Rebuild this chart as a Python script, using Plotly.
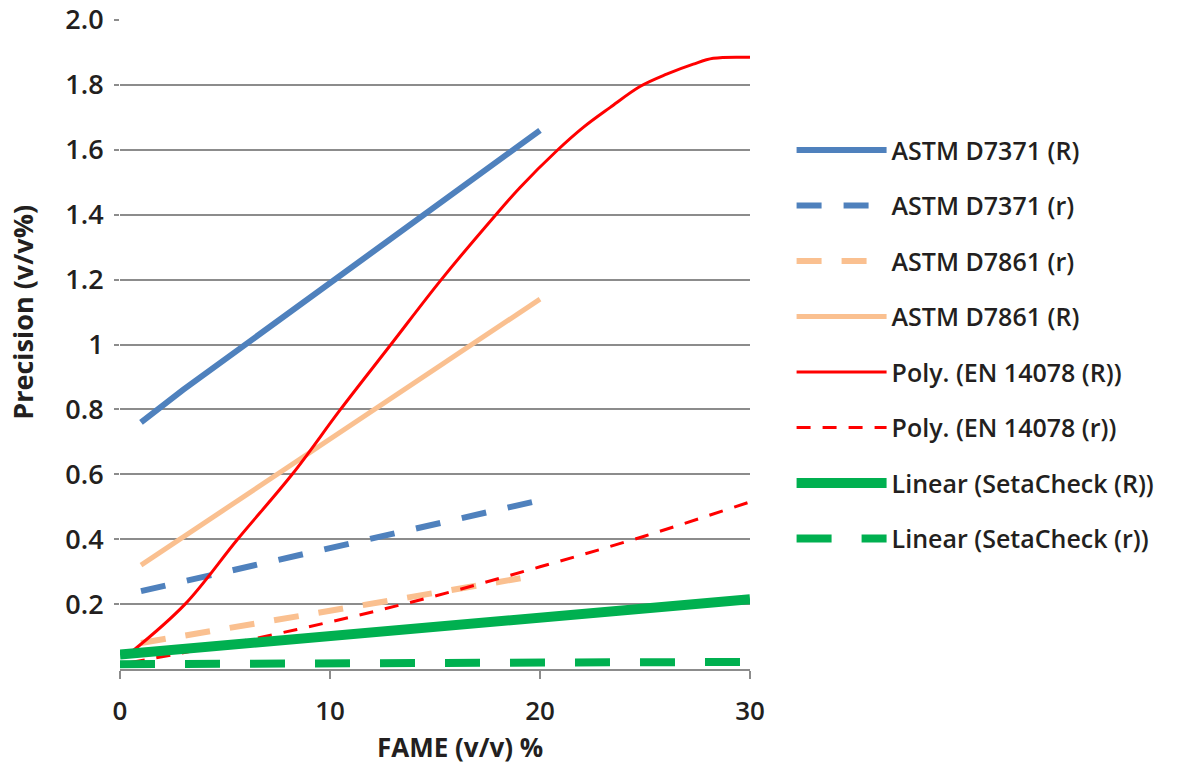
import plotly.graph_objects as go

# ---- data ----
d7371_R_x = [1, 3, 20]
d7371_R_y = [0.76, 0.86, 1.66]
d7371_r_x = [1, 20]
d7371_r_y = [0.24, 0.52]
d7861_r_x = [1, 20]
d7861_r_y = [0.08, 0.29]
d7861_R_x = [1, 20]
d7861_R_y = [0.32, 1.14]
en_R_x = [0.5, 3.1, 5.6, 8.2, 10.5, 12.9, 15.3, 17.9, 19.05, 20.8, 22.06, 23.33, 24.76, 26.03, 27.3, 28.25, 30]
en_R_y = [0.05, 0.20, 0.40, 0.60, 0.80, 1.00, 1.20, 1.40, 1.484, 1.597, 1.669, 1.730, 1.795, 1.833, 1.864, 1.882, 1.885]
en_r_x = [0.5, 5, 10, 15, 20, 25, 30]
en_r_y = [0.02, 0.075, 0.145, 0.225, 0.315, 0.41, 0.515]
seta_R_x = [0, 30]
seta_R_y = [0.045, 0.215]
seta_r_x = [0, 30]
seta_r_y = [0.015, 0.022]

y_tickvals = [0.2, 0.4, 0.6, 0.8, 1.0, 1.2, 1.4, 1.6, 1.8, 2.0]
y_ticktext = ["0.2", "0.4", "0.6", "0.8", "1", "1.2", "1.4", "1.6", "1.8", "2.0"]
x_tickvals = [0, 10, 20, 30]
x_title = "FAME (v/v) %"
y_title = "Precision (v/v%)"

BLUE = "#4F81BD"
ORANGE = "#FAC090"
RED = "#FF0000"
GREEN = "#00B050"
TXT = "#231F20"
GRID = "#8C8C8C"
FONT = "Open Sans"

series = [
    ("ASTM D7371 (R)", d7371_R_x, d7371_R_y, BLUE, 6, "solid"),
    ("ASTM D7371 (r)", d7371_r_x, d7371_r_y, BLUE, 6, "25px,22px"),
    ("ASTM D7861 (r)", d7861_r_x, d7861_r_y, ORANGE, 6, "25px,20px"),
    ("ASTM D7861 (R)", d7861_R_x, d7861_R_y, ORANGE, 5, "solid"),
    ("Poly. (EN 14078 (R))", en_R_x, en_R_y, RED, 3, "solid"),
    ("Poly. (EN 14078 (r))", en_r_x, en_r_y, RED, 3, "14px,12px"),
    ("Linear (SetaCheck (R))", seta_R_x, seta_R_y, GREEN, 10, "solid"),
    ("Linear (SetaCheck (r))", seta_r_x, seta_r_y, GREEN, 8, "35px,30px"),
]

fig = go.Figure()
for i, (name, xs, ys, col, w, dash) in enumerate(series):
    line = dict(color=col, width=w, dash=dash)
    if "Poly" in name:
        line.update(shape="spline", smoothing=1.0)
    fig.add_trace(go.Scatter(
        x=xs, y=ys, name=name, mode="lines", line=line,
        legendgroup=f"g{i}",
    ))

fig.add_annotation(
    text="<b>" + x_title + "</b>", xref="paper", yref="paper", x=0.54, y=-0.12,
    xanchor="center", yanchor="middle", showarrow=False,
    font=dict(family=FONT, size=26, color=TXT),
)
fig.add_annotation(
    text="<b>" + y_title + "</b>", xref="paper", yref="paper", x=-0.156, y=0.55,
    xanchor="center", yanchor="middle", showarrow=False, textangle=-90,
    font=dict(family=FONT, size=27, color=TXT),
)

fig.update_layout(
    width=1196, height=764,
    margin=dict(l=120, r=446, t=20, b=95, autoexpand=False),
    paper_bgcolor="white", plot_bgcolor="white",
    font=dict(family=FONT, size=24, color=TXT, weight=600),
    showlegend=True,
    legend=dict(
        x=1.066, y=0.8346, xanchor="left", yanchor="top",
        font=dict(family=FONT, size=25, color=TXT, weight=600),
        tracegroupgap=20, itemwidth=90, bgcolor="rgba(0,0,0,0)",
    ),
    xaxis=dict(
        range=[0, 30], tickvals=x_tickvals, ticks="outside", ticklen=8,
        tickcolor=GRID, tickwidth=1.5, showgrid=False, showline=True,
        linecolor=GRID, linewidth=1.5, zeroline=False, automargin=False,
        tickfont=dict(family=FONT, size=26, color=TXT, weight=600),
        ticklabelstandoff=10,
    ),
    yaxis=dict(
        range=[0, 2.0], tickvals=y_tickvals, ticktext=y_ticktext,
        ticks="outside", ticklen=5, tickcolor=GRID, tickwidth=1.5,
        showgrid=True, gridcolor=GRID, gridwidth=1.5, showline=False,
        zeroline=False, automargin=False,
        tickfont=dict(family=FONT, size=27, color=TXT, weight=600),
        ticklabelstandoff=5,
    ),
)

fig.write_html("out.html", config={"displayModeBar": False},
               post_script="document.body.style.margin='0';")
